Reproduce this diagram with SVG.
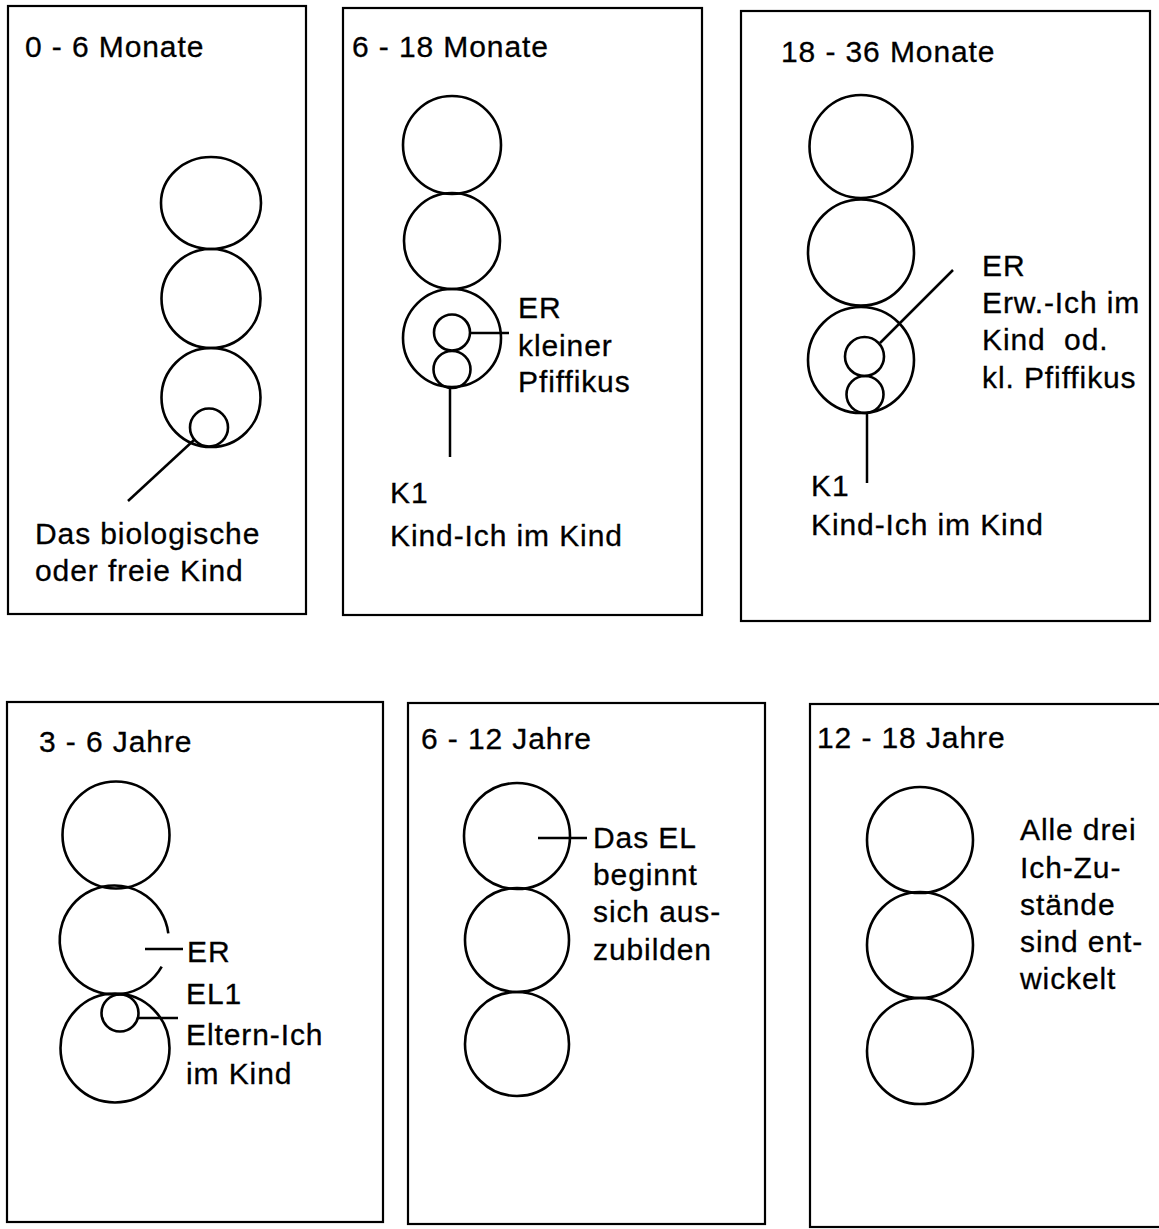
<svg xmlns="http://www.w3.org/2000/svg" width="1159" height="1229" viewBox="0 0 1159 1229">
<style>
.box{fill:none;stroke:#000;stroke-width:2.2}
.c{fill:none;stroke:#000;stroke-width:2.6}
.ln{fill:none;stroke:#000;stroke-width:2.5}
text{font-family:"Liberation Sans",Arial,Helvetica,sans-serif;font-size:30px;fill:#000;stroke:#000;stroke-width:0.3;letter-spacing:0.9px;font-variant-ligatures:none}
</style>
<rect x="0" y="0" width="1159" height="1229" fill="#fff"/>
<g id="panel1">
<rect class="box" x="8" y="6" width="298" height="608"/>
<text x="25" y="57">0 - 6 Monate</text>
<ellipse class="c" cx="211" cy="203" rx="50" ry="46"/>
<circle class="c" cx="211" cy="298.5" r="49.5"/>
<circle class="c" cx="211" cy="397.5" r="49.5"/>
<circle class="c" cx="209" cy="427.5" r="19"/>
<text x="35" y="544">Das biologische</text>
<text x="35" y="581">oder freie Kind</text>
</g>
<g id="panel2">
<rect class="box" x="343" y="8" width="359" height="607"/>
<text x="352" y="57">6 - 18 Monate</text>
<circle class="c" cx="452" cy="145" r="49"/>
<circle class="c" cx="452" cy="241" r="48"/>
<circle class="c" cx="452" cy="338" r="49"/>
<circle class="c" cx="452" cy="332.5" r="18"/>
<circle class="c" cx="452" cy="369.5" r="18.5"/>
<text x="518" y="318">ER</text>
<text x="518" y="356">kleiner</text>
<text x="518" y="392">Pfiffikus</text>
<text x="390" y="503">K1</text>
<text x="390" y="546">Kind-Ich im Kind</text>
</g>
<g id="panel3">
<rect class="box" x="741" y="11" width="409" height="610"/>
<text x="781" y="62">18 - 36 Monate</text>
<circle class="c" cx="861" cy="146.5" r="51.5"/>
<circle class="c" cx="861" cy="252.5" r="53"/>
<circle class="c" cx="861" cy="360" r="53"/>
<circle class="c" cx="864.5" cy="356.5" r="19.5"/>
<circle class="c" cx="865" cy="394.5" r="18.5"/>
<text x="982" y="276">ER</text>
<text x="982" y="313">Erw.-Ich im</text>
<text x="982" y="350" xml:space="preserve">Kind  od.</text>
<text x="982" y="388">kl. Pfiffikus</text>
<text x="811" y="496">K1</text>
<text x="811" y="535">Kind-Ich im Kind</text>
</g>
<g id="panel4">
<rect class="box" x="7" y="702" width="376" height="520"/>
<text x="39" y="752">3 - 6 Jahre</text>
<circle class="c" cx="116" cy="835" r="53.5"/>
<path class="c" d="M168.3 933.3 A54.5 54.5 0 1 0 161.7 966.7"/>
<circle class="c" cx="115" cy="1048" r="54.5"/>
<circle class="c" cx="120" cy="1013" r="18.5"/>
<text x="187" y="962">ER</text>
<text x="186" y="1004">EL1</text>
<text x="186" y="1045">Eltern-Ich</text>
<text x="186" y="1084">im Kind</text>
</g>
<g id="panel5">
<rect class="box" x="408" y="703" width="357" height="521"/>
<text x="421" y="749">6 - 12 Jahre</text>
<circle class="c" cx="517" cy="836" r="53"/>
<circle class="c" cx="517" cy="940" r="52"/>
<circle class="c" cx="517" cy="1044" r="52"/>
<text x="593" y="848">Das EL</text>
<text x="593" y="885">beginnt</text>
<text x="593" y="922">sich aus-</text>
<text x="593" y="960">zubilden</text>
</g>
<g id="panel6">
<rect class="box" x="810" y="704" width="360" height="523"/>
<text x="817" y="748">12 - 18 Jahre</text>
<circle class="c" cx="920" cy="840" r="53"/>
<circle class="c" cx="920" cy="945" r="53"/>
<circle class="c" cx="920" cy="1051" r="53"/>
<text x="1020" y="840">Alle drei</text>
<text x="1020" y="878">Ich-Zu-</text>
<text x="1020" y="915">stände</text>
<text x="1020" y="952">sind ent-</text>
<text x="1020" y="989">wickelt</text>
</g>
<g id="connectors">
<line class="ln" x1="194" y1="440" x2="128" y2="501"/>
<line class="ln" x1="470" y1="333" x2="509" y2="333"/>
<line class="ln" x1="450" y1="388" x2="450" y2="457"/>
<line class="ln" x1="880" y1="343" x2="953" y2="270"/>
<line class="ln" x1="867" y1="413" x2="867" y2="483"/>
<line class="ln" x1="145" y1="949" x2="183" y2="949"/>
<line class="ln" x1="138" y1="1018" x2="178" y2="1018"/>
<line class="ln" x1="538" y1="838" x2="587" y2="838"/>
</g>
</svg>
